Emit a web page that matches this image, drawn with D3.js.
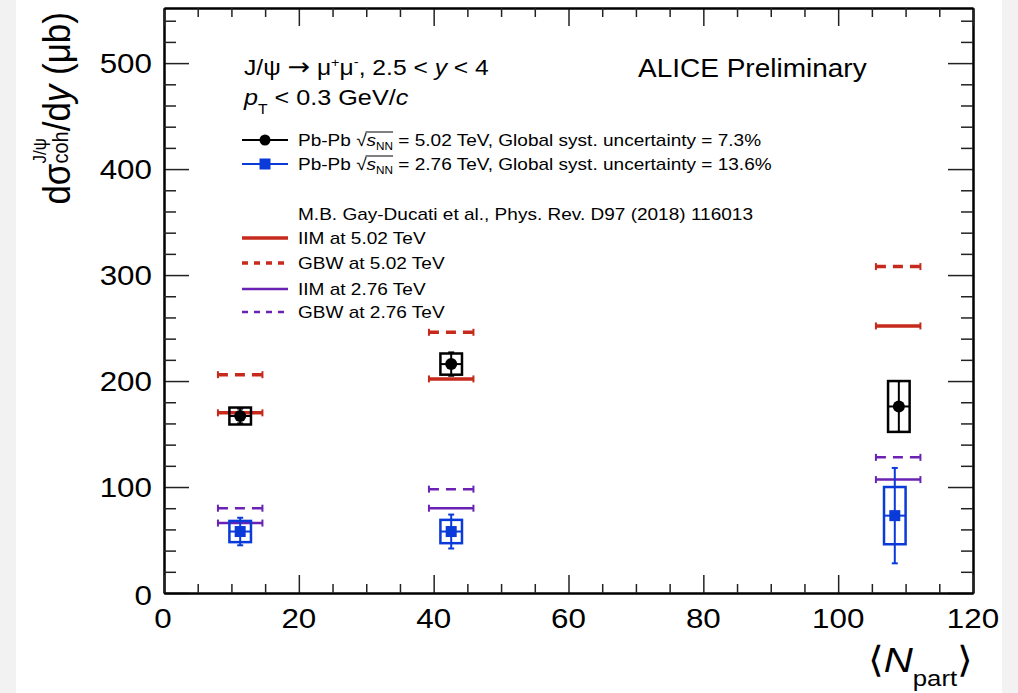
<!DOCTYPE html>
<html>
<head>
<meta charset="utf-8">
<script src="https://cdn.jsdelivr.net/npm/d3@7"></script>
<style>
body { margin: 0; background: #fff; }
svg { display: block; }
text { font-family: "Liberation Sans", Arial, Helvetica, sans-serif; fill: #000; white-space: pre; }
</style>
</head>
<body>
<div id="chart"></div>
<script>
// values
var npart502 = [11.3, 42.6, 109.0];
var xsec502 = [167, 216, 176];
var stat502 = [7, 11, 24];
var syst502 = [8, 10, 24];

var npart276 = [11.3, 42.6, 108.4];
var xsec276 = [58, 58, 73];
var stat276 = [13, 16, 45];
var syst276 = [10, 11, 27];

var boxHalf = 1.6;   // half width of syst. boxes (Npart units)

var npartModel = [11.3, 42.6, 108.9];
var modelHalf = 3.3;
var iim502 = [170, 202, 252];
var gbw502 = [206, 246, 308];
var iim276 = [66, 80, 107];
var gbw276 = [80, 98, 128];

var xTicks = [0, 20, 40, 60, 80, 100, 120];
var yTicks = [0, 100, 200, 300, 400, 500];

var RED = "#c62a1d", PURPLE = "#6a22b5", BLUE = "#0a3ad8";
var SX = 1.12; // fonts in the picture are a little wider than tall

var W = 1018, H = 693;
var margin = {top: 8, left: 164, right: 45, bottom: 100};

var svg = d3.select("#chart").append("svg")
    .attr("width", W)
    .attr("height", H);

// grey side bands of the screenshot
svg.append("rect").attr("x", 0).attr("y", 0).attr("width", 16).attr("height", H).attr("fill", "#f2f2f2");
svg.append("rect").attr("x", 1002).attr("y", 0).attr("width", 16).attr("height", H).attr("fill", "#f2f2f2");

var x = d3.scaleLinear().domain([0, 120]).range([margin.left, W - margin.right]);
var y = d3.scaleLinear().domain([0, 552]).range([H - margin.bottom, margin.top]);

// ---- rich text helper (sub/superscripts, stacked scripts, overline) ----
function rich(parent, px, py, pieces, anchor, rot) {
    var g = parent.append("g")
        .attr("transform", "translate(" + px + "," + py + ") scale(" + SX + ",1)" + (rot ? " rotate(-90)" : ""));
    var inner = g.append("g");
    var cx = 0, prevStart = 0, over = null;
    pieces.forEach(function(p) {
        var start = p.stack ? prevStart : cx;
        var t = inner.append("text")
            .attr("x", start)
            .attr("y", p.dy || 0)
            .attr("xml:space", "preserve")
            .style("font-size", p.fs + "px")
            .style("font-style", p.it ? "italic" : "normal")
            .text(p.t);
        if (p.ff) t.style("font-family", p.ff);
        var w = t.node().getComputedTextLength();
        if (p.stack) {
            cx = Math.max(cx, start + w);
        } else {
            prevStart = start;
            cx = start + w;
        }
        if (p.over) {
            if (!over) over = {x0: start - 1, y: p.oy};
            over.x1 = cx;
        }
    });
    if (over) {
        inner.append("line")
            .attr("x1", over.x0).attr("x2", over.x1)
            .attr("y1", over.y).attr("y2", over.y)
            .attr("stroke", "#000").attr("stroke-width", 1);
    }
    if (anchor === "end") inner.attr("transform", "translate(" + (-cx) + ",0)");
    if (anchor === "middle") inner.attr("transform", "translate(" + (-cx / 2) + ",0)");
    return g;
}

// ---- axes (ticks inside, mirrored on top and right) ----
var yMinor = d3.range(0, 552, 20).filter(function(d) { return d % 100 !== 0; });
var xMinor = d3.range(0, 121, 5).filter(function(d) { return d % 20 !== 0; });

function styleAxis(g, w) {
    g.selectAll(".domain").attr("stroke", "#000").attr("stroke-width", 2);
    g.selectAll(".tick line").attr("stroke", "#222").attr("stroke-width", w || 1.5);
}

svg.append("g").attr("transform", "translate(" + x(0) + ",0)")
    .call(d3.axisRight(y).tickValues(yTicks).tickSize(25).tickSizeOuter(0).tickFormat(""))
    .call(styleAxis);
svg.append("g").attr("transform", "translate(" + x(0) + ",0)")
    .call(d3.axisRight(y).tickValues(yMinor).tickSize(12).tickSizeOuter(0).tickFormat(""))
    .call(styleAxis);
svg.append("g").attr("transform", "translate(" + x(120) + ",0)")
    .call(d3.axisLeft(y).tickValues(yTicks).tickSize(25).tickSizeOuter(0).tickFormat(""))
    .call(styleAxis);
svg.append("g").attr("transform", "translate(" + x(120) + ",0)")
    .call(d3.axisLeft(y).tickValues(yMinor).tickSize(12).tickSizeOuter(0).tickFormat(""))
    .call(styleAxis);
svg.append("g").attr("transform", "translate(0," + y(0) + ")")
    .call(d3.axisTop(x).tickValues(xTicks).tickSize(18).tickSizeOuter(0).tickFormat(""))
    .call(styleAxis);
svg.append("g").attr("transform", "translate(0," + y(0) + ")")
    .call(d3.axisTop(x).tickValues(xMinor).tickSize(9).tickSizeOuter(0).tickFormat(""))
    .call(styleAxis);
svg.append("g").attr("transform", "translate(0," + y(552) + ")")
    .call(d3.axisBottom(x).tickValues(xTicks).tickSize(18).tickSizeOuter(0).tickFormat(""))
    .call(styleAxis);
svg.append("g").attr("transform", "translate(0," + y(552) + ")")
    .call(d3.axisBottom(x).tickValues(xMinor).tickSize(9).tickSizeOuter(0).tickFormat(""))
    .call(styleAxis);

// tick labels
yTicks.forEach(function(v) {
    var by = v === 0 ? y(0) + 12 : y(v) + 10;
    rich(svg, 152, by, [{t: String(v), fs: 28}], "end");
});
xTicks.forEach(function(v) {
    rich(svg, v === 0 ? x(v) - 1 : x(v), 628, [{t: String(v), fs: 28}], "middle");
});

// axis titles
rich(svg, x(120), 672, [
    {t: "\u27E8", fs: 36},
    {t: "N", fs: 36, it: true},
    {t: "part", fs: 23, dy: 14},
    {t: "\u27E9", fs: 36}
], "end");

rich(svg, 70, 12, [
    {t: "d\u03C3", fs: 35},
    {t: "J/\u03C8", fs: 17, dy: -21},
    {t: "coh", fs: 20, dy: -2, stack: true},
    {t: "/d", fs: 35},
    {t: "y", fs: 35, it: true},
    {t: " (\u03BCb)", fs: 35}
], "end", true);

// ---- model predictions ----
function modelSeries(vals, color, width, dash) {
    var g = svg.append("g");
    vals.forEach(function(v, i) {
        var x0 = x(npartModel[i] - modelHalf), x1 = x(npartModel[i] + modelHalf), yy = y(v);
        g.append("line").attr("x1", x0).attr("x2", x1).attr("y1", yy).attr("y2", yy)
            .attr("stroke", color).attr("stroke-width", width)
            .attr("stroke-dasharray", dash || null);
        [x0, x1].forEach(function(xe) {
            g.append("line").attr("x1", xe).attr("x2", xe).attr("y1", yy - 3.5).attr("y2", yy + 3.5)
                .attr("stroke", color).attr("stroke-width", 2);
        });
    });
}
modelSeries(gbw502, RED, 3.5, "10,7");
modelSeries(iim502, RED, 3.5);
modelSeries(gbw276, PURPLE, 2.5, "10,7");
modelSeries(iim276, PURPLE, 2.5);

// ---- data points ----
function dataSeries(nps, vals, stat, syst, color, square) {
    var g = svg.append("g");
    vals.forEach(function(v, i) {
        var cx = x(nps[i]), cy = y(v);
        g.append("rect")
            .attr("x", x(nps[i] - boxHalf)).attr("width", x(nps[i] + boxHalf) - x(nps[i] - boxHalf))
            .attr("y", y(v + syst[i])).attr("height", y(v - syst[i]) - y(v + syst[i]))
            .attr("fill", "none").attr("stroke", color).attr("stroke-width", 2.5);
        g.append("line").attr("x1", x(nps[i] - boxHalf)).attr("x2", x(nps[i] + boxHalf))
            .attr("y1", cy).attr("y2", cy).attr("stroke", color).attr("stroke-width", 2);
        g.append("line").attr("x1", cx).attr("x2", cx)
            .attr("y1", y(v + stat[i])).attr("y2", y(v - stat[i]))
            .attr("stroke", color).attr("stroke-width", 2);
        [v + stat[i], v - stat[i]].forEach(function(e) {
            g.append("line").attr("x1", cx - 3).attr("x2", cx + 3).attr("y1", y(e)).attr("y2", y(e))
                .attr("stroke", color).attr("stroke-width", 2);
        });
        if (square) {
            g.append("rect").attr("x", cx - 5.5).attr("y", cy - 5.5).attr("width", 11).attr("height", 11)
                .attr("fill", color);
        } else {
            g.append("circle").attr("cx", cx).attr("cy", cy).attr("r", 6).attr("fill", color);
        }
    });
}
dataSeries(npart502, xsec502, stat502, syst502, "#000", false);
dataSeries(npart276, xsec276, stat276, syst276, BLUE, true);

// ---- labels ----
rich(svg, 244, 75, [
    {t: "J/\u03C8 ", fs: 22},
    {t: "\u2192", fs: 24, ff: "DejaVu Sans"},
    {t: " \u03BC", fs: 22},
    {t: "+", fs: 13, dy: -8},
    {t: "\u03BC", fs: 22},
    {t: "-", fs: 13, dy: -9},
    {t: ", 2.5 < ", fs: 22},
    {t: "y", fs: 22, it: true},
    {t: " < 4", fs: 22}
], "start");
rich(svg, 244, 105, [
    {t: "p", fs: 22.5, it: true},
    {t: "T", fs: 14, dy: 9},
    {t: " < 0.3 GeV/", fs: 22.5},
    {t: "c", fs: 22.5, it: true}
], "start");
rich(svg, 638, 77, [{t: "ALICE Preliminary", fs: 25}], "start");

// legend
var legX0 = 242, legX1 = 288, legText = 298, legFs = 17;
var legRows = [
    {yc: 140, label: "5.02 TeV, Global syst. uncertainty = 7.3%", color: "#000", marker: "circle"},
    {yc: 164, label: "2.76 TeV, Global syst. uncertainty = 13.6%", color: BLUE, marker: "square"}
];
legRows.forEach(function(r) {
    svg.append("line").attr("x1", legX0).attr("x2", legX1).attr("y1", r.yc).attr("y2", r.yc)
        .attr("stroke", r.color).attr("stroke-width", 2);
    var mx = (legX0 + legX1) / 2;
    if (r.marker === "circle") {
        svg.append("circle").attr("cx", mx).attr("cy", r.yc).attr("r", 5.5).attr("fill", r.color);
    } else {
        svg.append("rect").attr("x", mx - 5.5).attr("y", r.yc - 5.5).attr("width", 11).attr("height", 11).attr("fill", r.color);
    }
    rich(svg, legText, r.yc + 6, [
        {t: "Pb-Pb ", fs: legFs},
        {t: "\u221A", fs: legFs},
        {t: "s", fs: legFs, it: true, over: true, oy: -14},
        {t: "NN", fs: 10.5, dy: 4, over: true, oy: -14},
        {t: " = " + r.label, fs: legFs}
    ], "start");
});

rich(svg, legText, 214 + 6, [{t: "M.B. Gay-Ducati et al., Phys. Rev. D97 (2018) 116013", fs: legFs}], "start");

var modelRows = [
    {yc: 238, label: "IIM at 5.02 TeV", color: RED, width: 3.5, dash: null},
    {yc: 263, label: "GBW at 5.02 TeV", color: RED, width: 3.5, dash: "6,6"},
    {yc: 289, label: "IIM at 2.76 TeV", color: PURPLE, width: 2.5, dash: null},
    {yc: 312, label: "GBW at 2.76 TeV", color: PURPLE, width: 2.5, dash: "6,6"}
];
modelRows.forEach(function(r) {
    svg.append("line").attr("x1", legX0).attr("x2", legX1).attr("y1", r.yc).attr("y2", r.yc)
        .attr("stroke", r.color).attr("stroke-width", r.width)
        .attr("stroke-dasharray", r.dash);
    rich(svg, legText, r.yc + 6, [{t: r.label, fs: legFs}], "start");
});

// figure id at the very bottom, mostly cut off as in the screenshot
svg.append("text").attr("x", 17).attr("y", 706)
    .style("font-size", "17px").style("fill", "#999")
    .text("ALI-PREL-367316");
</script>
</body>
</html>
